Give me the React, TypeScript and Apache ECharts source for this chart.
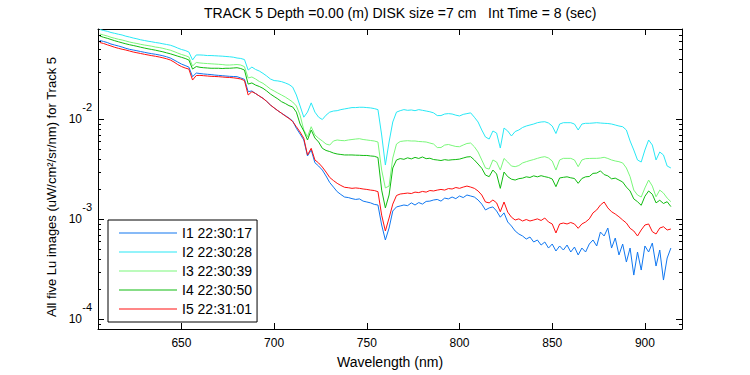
import React, { useEffect, useRef } from 'react';
import * as echarts from 'echarts';

// Wavelength grid (nm)
const WAVELENGTH = [
  606, 608, 610, 612, 614, 616, 618, 620, 622, 624,
  626, 628, 630, 632, 634, 636, 638, 640, 642, 644,
  646, 648, 650, 652, 654, 656, 658, 660, 662, 664,
  666, 668, 670, 672, 674, 676, 678, 680, 682, 684,
  686, 688, 690, 692, 694, 696, 698, 700, 702, 704,
  706, 708, 710, 712, 714, 716, 718, 720, 722, 724,
  726, 728, 730, 732, 734, 736, 738, 740, 742, 744,
  746, 748, 750, 752, 754, 756, 758, 760, 762, 764,
  766, 768, 770, 772, 774, 776, 778, 780, 782, 784,
  786, 788, 790, 792, 794, 796, 798, 800, 802, 804,
  806, 808, 810, 812, 814, 816, 818, 820, 822, 824,
  826, 828, 830, 832, 834, 836, 838, 840, 842, 844,
  846, 848, 850, 852, 854, 856, 858, 860, 862, 864,
  866, 868, 870, 872, 874, 876, 878, 880, 882, 884,
  886, 888, 890, 892, 894, 896, 898, 900, 902, 904,
  906, 908, 910, 912, 914,
];

// Lu values in units of 1e-3 uW/cm^2/sr/nm
const UNIT = 1e-3;

const I1 = [
  61.4, 60.0, 58.6, 56.6, 55.3, 54.1, 52.8, 51.3, 50.1, 49.3,
  48.5, 47.6, 46.8, 46.0, 45.3, 44.7, 44.0, 43.2, 42.2, 41.0,
  39.2, 37.4, 35.7, 34.5, 33.3, 26.7, 29.0, 28.7, 28.4, 28.2,
  28.0, 27.7, 27.5, 27.3, 27.1, 26.9, 26.8, 26.7, 25.9, 25.1,
  18.9, 19.2, 18.1, 17.1, 16.2, 15.1, 13.9, 13.0, 12.2, 11.5,
  10.9, 10.3, 9.62, 8.13, 7.13, 6.21, 4.30, 4.93, 3.68, 3.41,
  3.11, 2.71, 2.33, 2.10, 1.89, 1.77, 1.67, 1.65, 1.61, 1.58,
  1.60, 1.52, 1.49, 1.46, 1.41, 1.39, 0.877, 0.621, 0.818, 1.21,
  1.33, 1.36, 1.39, 1.37, 1.46, 1.39, 1.47, 1.42, 1.51, 1.52,
  1.56, 1.58, 1.52, 1.63, 1.60, 1.67, 1.61, 1.71, 1.65, 1.75,
  1.71, 1.67, 1.56, 1.42, 1.24, 1.30, 1.33, 1.21, 1.05, 1.16,
  0.940, 0.857, 0.764, 0.713, 0.681, 0.635, 0.665, 0.593, 0.621, 0.553,
  0.593, 0.516, 0.566, 0.482, 0.541, 0.493, 0.553, 0.471, 0.528, 0.440,
  0.516, 0.471, 0.566, 0.621, 0.541, 0.746, 0.681, 0.818, 0.516, 0.650,
  0.440, 0.566, 0.374, 0.516, 0.277, 0.471, 0.311, 0.541, 0.471, 0.579,
  0.341, 0.493, 0.247, 0.410, 0.516,
];

const I2 = [
  79.1, 77.3, 75.9, 73.8, 72.4, 70.9, 69.7, 67.8, 66.5, 65.0,
  63.8, 62.4, 61.4, 60.4, 59.6, 58.6, 57.9, 56.9, 56.0, 55.1,
  53.5, 51.6, 49.9, 48.8, 47.1, 39.2, 44.0, 44.0, 43.8, 43.4,
  43.4, 43.2, 43.0, 42.8, 42.5, 42.2, 41.8, 41.0, 40.6, 39.6,
  31.1, 33.3, 31.5, 30.4, 28.8, 27.1, 25.3, 24.4, 24.2, 23.8,
  23.1, 22.3, 21.0, 17.5, 13.6, 10.5, 11.8, 14.6, 11.8, 10.5,
  9.95, 11.0, 11.8, 12.1, 12.2, 12.5, 12.7, 12.9, 13.1, 13.1,
  13.2, 13.2, 13.1, 13.0, 12.8, 12.5, 6.97, 3.49, 5.93, 9.40,
  11.8, 12.2, 12.5, 12.3, 12.4, 12.2, 12.5, 12.3, 12.1, 11.9,
  11.6, 10.9, 10.9, 11.3, 11.4, 11.3, 11.0, 10.8, 11.2, 11.4,
  11.6, 10.5, 9.40, 7.82, 6.65, 6.35, 7.64, 7.29, 5.16, 8.18,
  7.64, 6.81, 7.55, 7.82, 8.28, 8.57, 8.77, 8.97, 9.25, 9.40,
  9.46, 9.18, 8.57, 7.21, 8.97, 9.25, 9.25, 9.25, 8.97, 7.82,
  8.97, 9.12, 9.12, 9.18, 9.25, 9.18, 9.12, 9.08, 8.97, 8.77,
  8.57, 8.43, 7.82, 6.07, 4.93, 3.92, 3.74, 4.93, 6.21, 5.53,
  3.92, 4.71, 4.40, 3.41, 3.26,
];

const I3 = [
  71.3, 69.7, 68.1, 66.1, 64.6, 63.2, 62.1, 60.7, 59.3, 58.2,
  57.3, 56.2, 55.3, 54.6, 53.8, 52.8, 52.2, 51.3, 50.1, 49.1,
  47.6, 46.0, 44.5, 43.4, 42.0, 34.1, 37.0, 36.6, 36.3, 36.1,
  35.9, 35.7, 35.5, 35.3, 34.9, 34.9, 35.1, 35.3, 34.9, 33.6,
  25.9, 26.5, 25.3, 23.9, 22.9, 21.5, 20.1, 19.2, 18.3, 17.5,
  16.7, 15.8, 14.9, 13.6, 11.0, 7.82, 6.70, 8.43, 6.97, 6.46,
  6.07, 5.66, 5.53, 6.07, 6.21, 6.14, 6.11, 6.21, 6.28, 6.35,
  6.40, 6.28, 6.21, 6.14, 6.07, 5.93, 3.11, 2.06, 2.15, 4.10,
  5.66, 6.00, 6.07, 6.11, 6.07, 6.07, 6.00, 5.97, 5.93, 5.79,
  5.66, 5.22, 5.22, 5.53, 5.60, 5.47, 5.35, 5.32, 5.53, 5.73,
  5.79, 5.32, 4.71, 3.92, 3.26, 3.18, 3.92, 3.74, 3.11, 4.06,
  3.74, 3.41, 3.36, 3.45, 3.66, 3.77, 3.87, 3.96, 4.07, 4.17,
  4.23, 4.10, 3.83, 3.11, 3.92, 4.07, 4.07, 4.07, 3.92, 3.36,
  3.92, 4.04, 4.06, 4.07, 4.07, 4.10, 4.17, 4.06, 3.92, 3.83,
  3.77, 3.66, 3.26, 2.67, 1.96, 1.75, 1.67, 2.06, 2.47, 2.15,
  1.68, 1.96, 1.83, 1.63, 1.50,
];

const I4 = [
  68.1, 66.1, 64.6, 62.8, 61.1, 59.6, 58.2, 56.9, 55.7, 54.7,
  53.7, 52.6, 51.6, 50.7, 49.9, 49.1, 48.2, 47.3, 46.2, 45.2,
  44.0, 42.8, 41.7, 40.6, 39.2, 31.8, 33.7, 33.1, 32.8, 32.6,
  32.4, 32.4, 32.4, 32.2, 32.4, 32.4, 32.6, 32.8, 32.2, 31.1,
  22.5, 23.1, 22.0, 21.3, 20.4, 19.2, 17.9, 16.9, 16.0, 15.0,
  14.4, 13.7, 13.3, 11.8, 8.97, 7.64, 6.21, 7.82, 6.50, 5.93,
  5.13, 4.88, 4.76, 4.60, 4.50, 4.45, 4.40, 4.40, 4.40, 4.38,
  4.37, 4.35, 4.35, 4.30, 4.27, 4.15, 1.96, 1.30, 1.75, 3.26,
  3.92, 4.05, 3.98, 4.12, 4.02, 4.16, 4.06, 4.20, 4.04, 4.08,
  3.96, 3.92, 3.87, 3.95, 3.90, 3.94, 3.96, 4.00, 4.10, 4.20,
  4.23, 3.92, 3.57, 3.24, 2.77, 2.67, 3.11, 2.84, 2.04, 2.97,
  2.67, 2.52, 2.47, 2.55, 2.58, 2.66, 2.62, 2.72, 2.66, 2.73,
  2.67, 2.62, 2.53, 2.12, 2.59, 2.63, 2.66, 2.60, 2.56, 2.29,
  2.56, 2.66, 2.68, 2.88, 2.90, 3.05, 2.80, 2.72, 2.54, 2.58,
  2.47, 2.36, 2.10, 1.92, 1.60, 1.50, 1.38, 1.70, 1.92, 1.78,
  1.46, 1.55, 1.44, 1.50, 1.34,
];

const I5 = [
  58.6, 57.3, 55.6, 54.1, 52.5, 51.3, 50.2, 49.3, 48.2, 47.1,
  46.3, 45.5, 44.7, 44.0, 43.3, 42.7, 42.0, 41.2, 40.3, 39.2,
  37.4, 35.3, 33.7, 32.6, 31.8, 24.7, 27.4, 27.5, 27.3, 27.1,
  26.9, 26.8, 26.7, 26.5, 26.3, 26.2, 26.0, 25.7, 25.3, 24.4,
  17.5, 18.9, 18.1, 17.1, 16.2, 15.1, 13.9, 13.0, 12.2, 11.5,
  10.8, 10.2, 9.51, 8.43, 7.46, 6.46, 4.40, 5.13, 3.92, 3.66,
  3.33, 2.97, 2.62, 2.44, 2.29, 2.18, 2.09, 2.07, 2.04, 2.06,
  2.04, 2.01, 1.99, 1.96, 1.94, 1.89, 1.10, 0.764, 1.03, 1.42,
  1.73, 1.79, 1.81, 1.83, 1.81, 1.87, 1.85, 1.90, 1.87, 1.94,
  1.92, 1.96, 1.99, 1.96, 2.03, 2.01, 2.08, 2.04, 2.10, 2.15,
  2.10, 2.04, 1.92, 1.75, 1.49, 1.46, 1.56, 1.46, 1.19, 1.49,
  1.18, 1.05, 0.984, 1.01, 0.962, 0.995, 0.962, 0.984, 1.01, 0.973,
  1.03, 0.940, 0.898, 0.730, 0.898, 0.918, 0.898, 0.929, 0.898, 0.813,
  0.898, 0.940, 1.01, 1.16, 1.24, 1.39, 1.49, 1.30, 1.19, 1.13,
  1.06, 0.984, 0.918, 0.813, 0.764, 0.681, 0.782, 0.877, 0.898, 0.752,
  0.713, 0.818, 0.843, 0.782, 0.800,
];

const SERIES_NAMES = ['I1 22:30:17', 'I2 22:30:28', 'I3 22:30:39', 'I4 22:30:50', 'I5 22:31:01'];
const SERIES_VALUES = [I1, I2, I3, I4, I5];
const COLORS = ['#1077f0', '#28e8f5', '#7af77a', '#10bb10', '#ff1010'];

const TITLE = 'TRACK 5 Depth =0.00 (m) DISK size =7 cm   Int Time = 8 (sec)';
const X_NAME = 'Wavelength (nm)';
const Y_NAME = 'All five Lu images (uW/cm\u00b2/sr/nm) for Track 5';

const X_MIN = 605;
const X_MAX = 920;
const Y_MIN = 8e-5;
const Y_MAX = 0.08;

const MINOR_TICKS = [
  9e-5,
  2e-4, 3e-4, 4e-4, 5e-4, 6e-4, 7e-4, 8e-4, 9e-4,
  2e-3, 3e-3, 4e-3, 5e-3, 6e-3, 7e-3, 8e-3, 9e-3,
  2e-2, 3e-2, 4e-2, 5e-2, 6e-2, 7e-2,
];

const FONT = '"Liberation Sans", Arial, Helvetica, sans-serif';

const isPow10 = (v: number) => {
  const e = Math.log10(v);
  return Math.abs(e - Math.round(e)) < 1e-6;
};

export default function App() {
  const ref = useRef<HTMLDivElement>(null);

  useEffect(() => {
    if (!ref.current) return;
    const chart = echarts.init(ref.current, null, { renderer: 'svg' });

    const axisLine = { show: true, onZero: false, lineStyle: { color: '#000', width: 1 } };
    const majorTick = { show: true, inside: true, length: 6, lineStyle: { color: '#000', width: 1 } };

    const lineSeries = SERIES_NAMES.map((name, k) => ({
      type: 'line',
      name,
      xAxisIndex: 0,
      yAxisIndex: 0,
      data: WAVELENGTH.map((w, i) => [w, SERIES_VALUES[k][i] * UNIT]),
      symbol: 'none',
      showSymbol: false,
      lineStyle: { width: 1, color: COLORS[k] },
      itemStyle: { color: COLORS[k] },
      emphasis: { disabled: true },
      z: 2 + k,
    }));

    const minorSeries = {
      type: 'custom',
      name: 'minor-ticks',
      xAxisIndex: 0,
      yAxisIndex: 0,
      silent: true,
      clip: false,
      z: 20,
      data: MINOR_TICKS.map((v) => [X_MIN, v]),
      renderItem: (params: any, api: any) => {
        const pt = api.coord([api.value(0), api.value(1)]);
        const cs = params.coordSys;
        const y = Math.round(pt[1]) + 0.5;
        const left = Math.round(cs.x);
        const right = Math.round(cs.x + cs.width);
        return {
          type: 'group',
          children: [
            { type: 'line', shape: { x1: left, y1: y, x2: left + 3, y2: y }, style: { stroke: '#000', lineWidth: 1 } },
            { type: 'line', shape: { x1: right - 3, y1: y, x2: right, y2: y }, style: { stroke: '#000', lineWidth: 1 } },
          ],
        };
      },
    };

    const option: any = {
      animation: false,
      backgroundColor: '#fff',
      textStyle: { fontFamily: FONT },
      title: {
        text: TITLE,
        left: 204,
        top: 6,
        padding: 0,
        textStyle: { fontSize: 14, fontWeight: 'normal', color: '#000', fontFamily: FONT },
      },
      legend: {
        data: SERIES_NAMES,
        orient: 'vertical',
        left: 108,
        top: 220,
        icon: 'rect',
        itemWidth: 58,
        itemHeight: 1,
        itemGap: 5,
        padding: [6, 5, 6, 11],
        borderColor: '#000',
        borderWidth: 1,
        backgroundColor: '#fff',
        selectedMode: false,
        textStyle: { fontSize: 14, color: '#000', fontFamily: FONT },
      },
      grid: { left: 98, right: 68, top: 29, bottom: 46 },
      xAxis: [
        {
          type: 'value',
          min: X_MIN,
          max: X_MAX,
          splitNumber: 6,
          position: 'bottom',
          axisLine,
          axisTick: majorTick,
          axisLabel: {
            formatter: (v: number) => (v % 50 === 0 ? String(v) : ''),
            color: '#000',
            fontSize: 12,
            margin: 8,
            fontFamily: FONT,
          },
          splitLine: { show: false },
          name: X_NAME,
          nameLocation: 'middle',
          nameGap: 26,
          nameTextStyle: { fontSize: 14, color: '#000', fontFamily: FONT },
        },
        {
          type: 'value',
          min: X_MIN,
          max: X_MAX,
          splitNumber: 6,
          position: 'top',
          axisLine,
          axisTick: majorTick,
          axisLabel: { show: false },
          splitLine: { show: false },
        },
      ],
      yAxis: [
        {
          type: 'log',
          logBase: 10,
          min: Y_MIN,
          max: Y_MAX,
          position: 'left',
          axisLine,
          axisTick: majorTick,
          axisLabel: {
            formatter: (v: number) => (isPow10(v) ? '10' : ''),
            color: '#000',
            fontSize: 12,
            margin: 16,
            fontFamily: FONT,
          },
          splitLine: { show: false },
          name: Y_NAME,
          nameLocation: 'middle',
          nameGap: 40,
          nameTextStyle: { fontSize: 13, color: '#000', fontFamily: FONT, padding: [0, 16, 0, 0] },
        },
        {
          type: 'log',
          logBase: 10,
          min: Y_MIN,
          max: Y_MAX,
          position: 'left',
          axisLine: { show: false, onZero: false },
          axisTick: { show: false },
          axisLabel: {
            formatter: (v: number) => (isPow10(v) ? '{e|' + String(Math.round(Math.log10(v))) + '}' : ''),
            color: '#000',
            margin: 6,
            fontFamily: FONT,
            rich: {
              e: { fontSize: 11, color: '#000', fontFamily: FONT, padding: [0, 0, 24, 0] },
            },
          },
          splitLine: { show: false },
        },
        {
          type: 'log',
          logBase: 10,
          min: Y_MIN,
          max: Y_MAX,
          position: 'right',
          axisLine,
          axisTick: majorTick,
          axisLabel: { show: false },
          splitLine: { show: false },
        },
      ],
      series: [...lineSeries, minorSeries],
    };

    chart.setOption(option);
    return () => chart.dispose();
  }, []);

  return (
    <div
      ref={ref}
      style={{ position: 'absolute', left: 0, top: 0, width: 750, height: 375, background: '#fff' }}
    />
  );
}
